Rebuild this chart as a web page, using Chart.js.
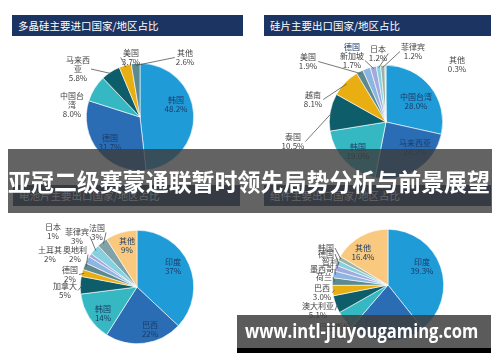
<!DOCTYPE html>
<html>
<head>
<meta charset="utf-8">
<script src="https://cdn.jsdelivr.net/npm/chart.js@4.4.0/dist/chart.umd.min.js"></script>
<style>
body{margin:0;width:500px;height:362px;background:#fff;position:relative;overflow:hidden;font-family:"Noto Sans CJK SC",sans-serif}
.bar{position:absolute;height:21px;background:#1c3461;color:#fff;font-size:10.5px;line-height:21px;padding-left:6px;box-sizing:border-box;white-space:nowrap}
.box{position:absolute}
#banner{position:absolute;left:8px;top:149px;width:484px;height:64px;background:rgba(60,60,60,.8)}
#bannerText{position:absolute;left:8px;top:166px;color:#fff;font-weight:bold;font-size:24px;line-height:30px;white-space:nowrap;transform-origin:left center}
#mark{position:absolute;left:237px;top:315px;width:254px;height:33px;background:rgba(62,62,62,.85)}
#markLine{position:absolute;left:237px;top:348px;width:254px;height:5px;background:#000}
#markText{position:absolute;left:245px;top:318px;color:#fff;font-family:"Open Sans",sans-serif;font-weight:bold;font-size:19px;line-height:26px;white-space:nowrap;transform-origin:left center}
</style>
</head>
<body>
<div class="bar" style="left:12px;top:15px;width:231px">多晶硅主要进口国家/地区占比</div>
<div class="bar" style="left:264px;top:15px;width:227px">硅片主要出口国家/地区占比</div>
<div class="bar" style="left:13px;top:185px;width:227px">电池片主要出口国家/地区占比</div>
<div class="bar" style="left:264px;top:185px;width:227px">组件主要出口国家/地区占比</div>

<div class="box" style="left:0;top:38px;width:250px;height:142px"><canvas id="c1"></canvas></div>
<div class="box" style="left:250px;top:38px;width:250px;height:142px"><canvas id="c2"></canvas></div>
<div class="box" style="left:0;top:210px;width:250px;height:152px"><canvas id="c3"></canvas></div>
<div class="box" style="left:250px;top:210px;width:250px;height:152px"><canvas id="c4"></canvas></div>

<div id="banner"></div>
<div id="bannerText">亚冠二级赛蒙通联暂时领先局势分析与前景展望</div>
<div id="mark"></div>
<div id="markLine"></div>
<div id="markText">www.intl-jiuyougaming.com</div>

<script>
// 多晶硅进口
var polyNames = ['韩国', '德国', '中国台\n湾', '马来西\n亚', '美国', '其他'];
var polyValues = [48.2, 31.7, 8.0, 5.8, 3.7, 2.6];

// 硅片出口
var waferNames = ['中国台湾', '马来西亚', '韩国', '泰国', '越南', '美国', '德国', '新加坡', '日本', '菲律宾', '其他'];
var waferValues = [28.0, 24.2, 19.0, 10.5, 8.1, 1.9, 2.2, 1.7, 1.2, 1.2, 0.3];

// 电池片出口
var cellNames = ['印度', '巴西', '韩国', '加拿大', '德国', '奥地利', '土耳其', '日本', '菲律宾', '法国', '其他'];
var cellValues = [37, 22, 14, 5, 2, 2, 2, 1, 3, 3, 9];

// 组件出口
var moduleNames = ['印度', '日本', '巴基斯坦', '澳大利亚', '巴西', '荷兰', '墨西哥', '智利', '德国', '韩国', '其他'];
var moduleValues = [39.3, 22.0, 5.5, 5.1, 3.0, 2.2, 2.0, 1.7, 1.5, 1.3, 16.4];

var BLUE = '#1f9bd7', MID = '#2a6db4', TEAL = '#35b8c1', DARK = '#0d5d6b', GOLD = '#e8ae12',
    GREY = '#5d8b8d', LBLUE = '#8cb5e2', LAV = '#a2a9dc', CYAN = '#86d0e0', SAGE = '#9fb3a4',
    PALE = '#c9cccc', PEACH = '#f8c97f';

// squeeze overlay texts to the width they have in the picture
function fitWidth(id, w) {
  var el = document.getElementById(id);
  el.style.transform = 'scaleX(' + (w / el.scrollWidth) + ')';
}
fitWidth('bannerText', 482);
fitWidth('markText', 233);

// label placement: offset of first text line from pie centre, out = draw leader line
function makeLabels(names, values, place, digits) {
  return {
    id: 'pieLabels',
    afterDatasetsDraw: function(chart) {
      var ctx = chart.ctx;
      var arcs = chart.getDatasetMeta(0).data;
      ctx.save();
      ctx.font = '8px "Noto Sans CJK SC", sans-serif';
      ctx.textAlign = 'center';
      ctx.textBaseline = 'middle';
      arcs.forEach(function(arc, i) {
        var p = place[i];
        if (!p) return;
        var lines = names[i].split('\n');
        if (!p.noPct) lines.push(values[i].toFixed(digits) + '%');
        var lx = arc.x + p.dx, ly = arc.y + p.dy, lh = 9;
        if (p.out) {
          var mid = (arc.startAngle + arc.endAngle) / 2;
          var r = arc.outerRadius - 2;
          var sx = arc.x + Math.cos(mid) * r, sy = arc.y + Math.sin(mid) * r;
          var w = 0;
          lines.forEach(function(t) { w = Math.max(w, ctx.measureText(t).width); });
          var ex = sx > lx ? lx + w / 2 + 1 : lx - w / 2 - 1;
          var ey = ly + (lines.length - 1) * lh / 2;
          ctx.strokeStyle = '#555';
          ctx.lineWidth = 0.8;
          ctx.beginPath();
          ctx.moveTo(ex, ey);
          ctx.lineTo(sx, sy);
          ctx.stroke();
        }
        ctx.fillStyle = p.out || p.side ? '#444' : '#1d3a66';
        lines.forEach(function(t, k) { ctx.fillText(t, lx, ly + k * lh); });
      });
      ctx.restore();
    }
  };
}

function drawPie(id, names, values, colors, pad, place, digits) {
  new Chart(document.getElementById(id), {
    type: 'pie',
    data: {
      labels: names,
      datasets: [{ data: values, backgroundColor: colors, borderColor: '#fff', borderWidth: 0.6 }]
    },
    options: {
      responsive: true,
      maintainAspectRatio: false,
      animation: false,
      layout: { padding: pad },
      plugins: { legend: { display: false }, tooltip: { enabled: false } }
    },
    plugins: [makeLabels(names, values, place, digits)]
  });
}

drawPie('c1', polyNames, polyValues, [BLUE, MID, TEAL, DARK, GOLD, GREY],
  { left: 86, right: 56, top: 25, bottom: 9 },
  [
    { dx: 36, dy: -17 },
    { dx: -30, dy: 21 },
    { dx: -68, dy: -21, side: true },
    { dx: -62, dy: -57, out: true },
    { dx: -9, dy: -64, out: true },
    { dx: 45, dy: -64, out: true }
  ], 1);

drawPie('c2', waferNames, waferValues, [BLUE, MID, TEAL, DARK, GOLD, GREY, LBLUE, LAV, CYAN, SAGE, PALE],
  { left: 79, right: 57, top: 27, bottom: 1 },
  [
    { dx: 30, dy: -25 },
    { dx: 29, dy: 21 },
    { dx: -28, dy: 25 },
    { dx: -93, dy: 15, out: true },
    { dx: -73, dy: -27, out: true },
    { dx: -78, dy: -65, out: true },
    { dx: -34, dy: -75, noPct: true },
    { dx: -34, dy: -66, out: true },
    { dx: -8, dy: -73, out: true },
    { dx: 27, dy: -75, out: true },
    { dx: 71, dy: -62, side: true }
  ], 1);

drawPie('c3', cellNames, cellValues, [BLUE, MID, TEAL, DARK, GOLD, GREY, LBLUE, LAV, CYAN, '#7fa3a8', PEACH],
  { left: 80, right: 56, top: 20, bottom: 18 },
  [
    { dx: 36, dy: -25 },
    { dx: 13, dy: 38 },
    { dx: -34, dy: 22 },
    { dx: -72, dy: -1, out: true },
    { dx: -67, dy: -17, out: true },
    { dx: -62, dy: -37, out: true },
    { dx: -87, dy: -37, side: true },
    { dx: -84, dy: -60, side: true },
    { dx: -60, dy: -55, out: true },
    { dx: -40, dy: -59, out: true },
    { dx: -10, dy: -46 }
  ], 0);

drawPie('c4', moduleNames, moduleValues, [BLUE, MID, TEAL, DARK, GOLD, GREY, LBLUE, LAV, CYAN, SAGE, PEACH],
  { left: 82, right: 56, top: 19, bottom: 21 },
  [
    { dx: 34, dy: -23 },
    { dx: -15, dy: 37 },
    { dx: -53, dy: 42, out: true },
    { dx: -70, dy: 21, out: true },
    { dx: -66, dy: 3, out: true },
    { dx: -64, dy: -8, out: true, noPct: true },
    { dx: -66, dy: -16, out: true, noPct: true },
    { dx: -58, dy: -23, out: true, noPct: true },
    { dx: -62, dy: -31, out: true, noPct: true },
    { dx: -62, dy: -37, out: true, noPct: true },
    { dx: -25, dy: -37 }
  ], 1);
</script>
</body>
</html>
